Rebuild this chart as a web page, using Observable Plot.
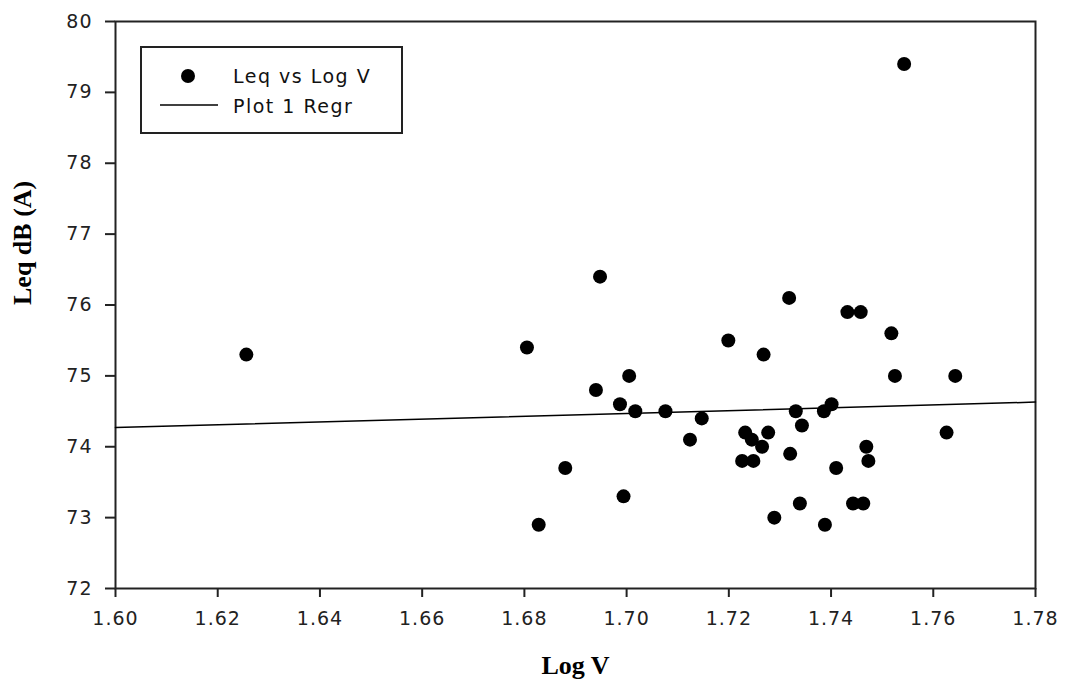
<!DOCTYPE html>
<html>
<head>
<meta charset="utf-8">
<script src="https://cdn.jsdelivr.net/npm/d3@7"></script>
<script src="https://cdn.jsdelivr.net/npm/@observablehq/plot@0.6"></script>
<style>
  html, body { margin: 0; padding: 0; background: #fff; }
  #wrap { position: relative; width: 1070px; height: 686px; }
  #legend { position: absolute; left: 140px; top: 46px; }
  .ax text { font-family: "DejaVu Sans", sans-serif; letter-spacing: 1px; }
</style>
</head>
<body>
<div id="wrap"></div>
<script>
// Traffic noise level against log of traffic volume
const logV = [
  1.6256, 1.6805, 1.6828, 1.6880, 1.6940, 1.6948, 1.6987, 1.6994, 1.7005, 1.7017,
  1.7076, 1.7124, 1.7147, 1.7199, 1.7226, 1.7232, 1.7245, 1.7248, 1.7265, 1.7268,
  1.7277, 1.7289, 1.7318, 1.7320, 1.7331, 1.7339, 1.7343, 1.7386, 1.7388, 1.7401,
  1.7410, 1.7432, 1.7443, 1.7458, 1.7463, 1.7469, 1.7473, 1.7518, 1.7525, 1.7543,
  1.7626, 1.7643
];
const leq = [
  75.3, 75.4, 72.9, 73.7, 74.8, 76.4, 74.6, 73.3, 75.0, 74.5,
  74.5, 74.1, 74.4, 75.5, 73.8, 74.2, 74.1, 73.8, 74.0, 75.3,
  74.2, 73.0, 76.1, 73.9, 74.5, 73.2, 74.3, 74.5, 72.9, 74.6,
  73.7, 75.9, 73.2, 75.9, 73.2, 74.0, 73.8, 75.6, 75.0, 79.4,
  74.2, 75.0
];

// Fitted regression line, evaluated at the ends of the x axis
const regrX = [1.60, 1.78];
const regrY = [74.27, 74.63];

const xTicks = [1.60, 1.62, 1.64, 1.66, 1.68, 1.70, 1.72, 1.74, 1.76, 1.78];
const yTicks = [72, 73, 74, 75, 76, 77, 78, 79, 80];

const points = logV.map((x, i) => ({x, y: leq[i]}));
const regr = regrX.map((x, i) => ({x, y: regrY[i]}));

const axisColor = "#222";

const chart = Plot.plot({
  width: 1070,
  height: 686,
  marginLeft: 115,
  marginRight: 35,
  marginTop: 21,
  marginBottom: 98,
  style: {background: "#fff", overflow: "visible"},
  x: {domain: [1.60, 1.78], label: null},
  y: {domain: [72, 80], label: null},
  marks: [
    Plot.frame({stroke: axisColor, strokeWidth: 2}),
    Plot.axisX({
      ticks: xTicks, tickFormat: d3.format(".2f"), tickSize: 9, tickPadding: 14,
      stroke: axisColor, strokeWidth: 2, fontSize: 19, fill: "#222",
      className: "ax", label: null
    }),
    Plot.axisY({
      ticks: yTicks, tickFormat: d => String(d), tickSize: 10, tickPadding: 13,
      stroke: axisColor, strokeWidth: 2, fontSize: 19, fill: "#222",
      className: "ax", label: null
    }),
    Plot.line(regr, {x: "x", y: "y", stroke: "#000", strokeWidth: 1.5}),
    Plot.dot(points, {x: "x", y: "y", r: 7, fill: "#000", stroke: "none"}),
    // Axis titles
    Plot.text(["Log V"], {
      frameAnchor: "bottom", dy: 85, fontFamily: "Liberation Serif, serif",
      fontWeight: "bold", fontSize: 26, fill: "#000"
    }),
    Plot.text(["Leq dB (A)"], {
      frameAnchor: "left", dx: -93, rotate: -90, fontFamily: "Liberation Serif, serif",
      fontWeight: "bold", fontSize: 26, fill: "#000"
    })
  ]
});

const wrap = document.getElementById("wrap");
wrap.appendChild(chart);

// Legend box inside the plot area
const legend = d3.create("svg")
  .attr("id", "legend")
  .attr("width", 264)
  .attr("height", 90);
legend.append("rect")
  .attr("x", 1).attr("y", 1).attr("width", 261).attr("height", 86)
  .attr("fill", "#fff").attr("stroke", axisColor).attr("stroke-width", 2);
legend.append("circle")
  .attr("cx", 48).attr("cy", 30).attr("r", 7).attr("fill", "#000");
legend.append("line")
  .attr("x1", 20).attr("x2", 78).attr("y1", 59).attr("y2", 59)
  .attr("stroke", "#000").attr("stroke-width", 1.5);
const labels = ["Leq vs Log V", "Plot 1 Regr"];
labels.forEach((t, i) => {
  legend.append("text")
    .attr("x", 93).attr("y", 37 + i * 30)
    .attr("font-family", "DejaVu Sans, sans-serif")
    .attr("font-size", 19)
    .attr("letter-spacing", "1.5px")
    .attr("fill", "#111")
    .text(t);
});
wrap.appendChild(legend.node());
</script>
</body>
</html>
